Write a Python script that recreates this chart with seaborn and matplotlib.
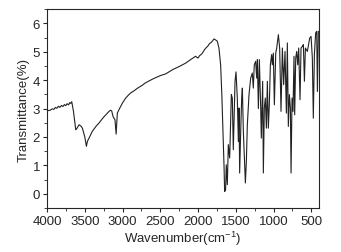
import numpy as np
import pandas as pd
import seaborn as sns
import matplotlib.pyplot as plt
from matplotlib.ticker import MultipleLocator

sns.set_style("ticks")
plt.rcParams['font.family'] = ['Liberation Sans', 'DejaVu Sans']
plt.rcParams['mathtext.fontset'] = 'custom'
plt.rcParams['mathtext.rm'] = 'Liberation Sans'
plt.rcParams['mathtext.default'] = 'regular'

# FTIR spectrum (wavenumber in cm-1, transmittance)
wavenumber = [4000, 3960, 3930, 3910, 3890, 3870, 3850, 3830, 3810, 3790, 3770, 3753,
              3735, 3715, 3700, 3687, 3673, 3650, 3620, 3600, 3576, 3550, 3532, 3500,
              3479, 3465, 3444, 3400, 3350, 3312, 3250, 3200, 3179, 3160, 3144, 3126,
              3100, 3085, 3069, 3040, 3000, 2958, 2920, 2892, 2850, 2800, 2738, 2700,
              2650, 2600, 2550, 2500, 2429, 2380, 2330, 2280, 2220, 2164, 2100, 2033,
              2015, 2000, 1980, 1960, 1943, 1920, 1900, 1870, 1850, 1830, 1811, 1789,
              1770, 1745, 1723, 1701, 1685, 1670, 1655, 1648, 1635, 1626, 1612, 1599,
              1581, 1559, 1546, 1533, 1510, 1497, 1480, 1466, 1457, 1449, 1435, 1422,
              1413, 1400, 1382, 1373, 1360, 1347, 1325, 1303, 1281, 1268, 1255, 1237,
              1223, 1214, 1201, 1188, 1170, 1162, 1153, 1144, 1135, 1122, 1109, 1095,
              1082, 1069, 1056, 1042, 1025, 1016, 1003, 989, 971, 958, 936, 919,
              901, 883, 866, 848, 830, 817, 804, 790, 777, 768, 755, 742,
              729, 720, 706, 693, 680, 667, 649, 636, 618, 605, 591, 578,
              552, 521, 503, 486, 473, 459, 442, 428, 419, 406]
transmittance = [2.92, 2.94, 2.99, 2.97, 3.04, 3.01, 3.08, 3.04, 3.11, 3.07, 3.14, 3.1,
                 3.17, 3.13, 3.21, 3.18, 3.24, 2.9, 2.25, 2.32, 2.43, 2.38, 2.31, 2.0,
                 1.67, 1.85, 1.96, 2.2, 2.38, 2.49, 2.7, 2.84, 2.9, 2.94, 2.92, 2.72,
                 2.6, 2.1, 2.84, 3.0, 3.2, 3.37, 3.48, 3.55, 3.62, 3.72, 3.82, 3.9,
                 3.97, 4.04, 4.1, 4.16, 4.22, 4.3, 4.38, 4.44, 4.52, 4.6, 4.72, 4.84,
                 4.8, 4.78, 4.86, 4.9, 4.95, 5.05, 5.12, 5.2, 5.28, 5.32, 5.37, 5.45,
                 5.42, 5.37, 5.13, 4.54, 3.5, 2.2, 0.9, 0.08, 0.14, 1.02, 0.32, 1.73,
                 1.26, 3.49, 3.37, 1.55, 3.96, 4.29, 3.37, 1.84, 3.02, 0.73, 2.2, 3.37,
                 3.72, 2.2, 1.02, 0.38, 1.14, 2.43, 3.49, 4.07, 4.25, 3.72, 4.54, 4.66,
                 4.07, 4.72, 3.0, 4.72, 3.02, 1.96, 3.02, 3.96, 0.73, 3.02, 3.37, 2.31,
                 3.96, 2.31, 3.13, 4.54, 4.9, 4.54, 4.95, 3.13, 4.95, 5.13, 5.6, 5.13,
                 2.9, 5.13, 3.84, 5.01, 2.84, 5.31, 2.37, 3.49, 3.02, 0.73, 3.37, 2.9,
                 4.84, 2.78, 4.78, 5.01, 4.54, 5.13, 3.31, 5.13, 5.19, 5.25, 3.96, 5.13,
                 5.01, 5.48, 5.54, 4.78, 2.66, 4.9, 5.66, 5.72, 3.6, 5.72]

spectrum = pd.DataFrame({'wavenumber': wavenumber, 'transmittance': transmittance})

fig, ax = plt.subplots(figsize=(3.41, 2.53), dpi=100)
fig.subplots_adjust(left=0.138, right=0.935, bottom=0.174, top=0.96)

sns.lineplot(x='wavenumber', y='transmittance', data=spectrum, ax=ax,
             sort=False, estimator=None, color='#222222', linewidth=0.8)

ax.set_xlim(4000, 400)
ax.set_ylim(-0.5, 6.5)
ax.xaxis.set_major_locator(MultipleLocator(500))
ax.xaxis.set_minor_locator(MultipleLocator(250))
ax.yaxis.set_major_locator(MultipleLocator(1))
ax.yaxis.set_minor_locator(MultipleLocator(0.5))
ax.tick_params(which='major', direction='out', length=3, width=0.8, labelsize=9.5, pad=2)
ax.tick_params(which='minor', direction='out', length=2, width=0.6)
for s in ax.spines.values():
    s.set_linewidth(0.8)
    s.set_visible(True)

ax.set_xlabel('Wavenumber(cm$^{-1}$)', fontsize=9.5, labelpad=1)
ax.set_ylabel('Transmittance(%)', fontsize=9.5, labelpad=2)

fig.savefig('out.png', dpi=100)
